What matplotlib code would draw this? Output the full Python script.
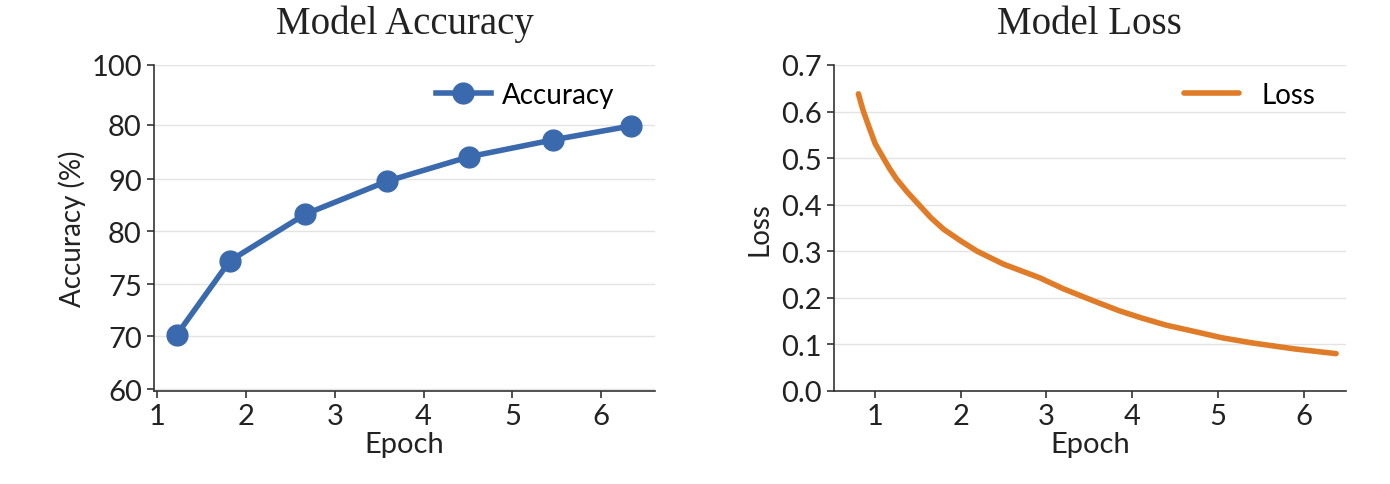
import matplotlib
matplotlib.use("Agg")
import matplotlib.pyplot as plt

# accuracy panel: y is in axis-slot units, the tick labels are printed as in the source
acc_epoch = [1.22, 1.82, 2.67, 3.59, 4.51, 5.46, 6.33]
acc_val = [1.02, 2.42, 3.30, 3.92, 4.38, 4.70, 4.96]
acc_tick_pos = [0, 1.0, 1.98, 2.98, 3.96, 4.98, 6.11]
acc_tick_lab = ["60", "70", "75", "80", "90", "80", "100"]

# loss panel
loss_epoch = [0.805, 0.835, 0.864, 0.93, 1.0, 1.097, 1.17, 1.25, 1.38, 1.51, 1.65, 1.8,
              2.0, 2.19, 2.5, 2.92, 3.2, 3.54, 3.85, 4.12, 4.4, 4.74, 5.05, 5.40, 5.9, 6.38]
loss_val = [0.638, 0.618, 0.600, 0.566, 0.531, 0.500, 0.477, 0.455, 0.426, 0.400, 0.372,
            0.347, 0.322, 0.300, 0.272, 0.243, 0.219, 0.194, 0.172, 0.156, 0.141, 0.127,
            0.114, 0.103, 0.090, 0.080]
loss_ticks = [0.0, 0.1, 0.2, 0.3, 0.4, 0.5, 0.6, 0.7]
epoch_ticks = [1, 2, 3, 4, 5, 6]

BLUE = "#3b69ad"
ORANGE = "#e07b28"
SANS = "Lato"
SERIF = "Liberation Serif"
INK = "#222222"

fig = plt.figure(figsize=(13.9, 4.85), dpi=100)
ax1 = fig.add_axes([0.111, 0.192, 0.360, 0.672])
ax2 = fig.add_axes([0.600, 0.192, 0.368, 0.672])

def style(ax):
    for sp in ["top", "right"]:
        ax.spines[sp].set_visible(False)
    for sp in ["left", "bottom"]:
        ax.spines[sp].set_color("#333333")
        ax.spines[sp].set_linewidth(1.2)
    ax.yaxis.grid(True, color="#e3e3e3", lw=1)
    ax.set_axisbelow(True)
    ax.tick_params(length=5, width=1.2, color="#333333", labelsize=21, pad=4)
    for t in ax.get_xticklabels() + ax.get_yticklabels():
        t.set_family(SANS)
        t.set_color(INK)

ax1.plot(acc_epoch, acc_val, "-o", color=BLUE, lw=4, ms=15, label="Accuracy")
ax1.set_xlim(0.97, 6.6)
ax1.set_ylim(-0.03, 6.11)
ax1.set_xticks(epoch_ticks)
ax1.set_yticks(acc_tick_pos)
ax1.set_yticklabels(acc_tick_lab)
style(ax1)
ax1.set_xlabel("Epoch", fontsize=21, family=SANS, color=INK, labelpad=1)
ax1.set_ylabel("Accuracy (%)", fontsize=20, family=SANS, color=INK, labelpad=4)
ax1.set_title("Model Accuracy", fontsize=28, family=SERIF, color=INK, pad=23)
ax1.legend(loc="upper right", frameon=False, prop={"family": SANS, "size": 20},
           handlelength=2.0, handletextpad=0.4, bbox_to_anchor=(0.97, 1.025))

ax2.plot(loss_epoch, loss_val, "-", color=ORANGE, lw=4, label="Loss",
         solid_capstyle="round", solid_joinstyle="round")
ax2.set_xlim(0.52, 6.49)
ax2.set_ylim(0, 0.7)
ax2.set_xticks(epoch_ticks)
ax2.set_yticks(loss_ticks)
ax2.set_yticklabels([f"{v:.1f}" for v in loss_ticks])
style(ax2)
ax2.set_xlabel("Epoch", fontsize=21, family=SANS, color=INK, labelpad=1)
ax2.set_ylabel("Loss", fontsize=20, family=SANS, color=INK, labelpad=6)
ax2.set_title("Model Loss", fontsize=28, family=SERIF, color=INK, pad=23)
ax2.legend(loc="upper right", frameon=False, prop={"family": SANS, "size": 20},
           handlelength=2.0, handletextpad=0.8, bbox_to_anchor=(0.99, 1.025))

fig.savefig("out.png", dpi=100, facecolor="white")
